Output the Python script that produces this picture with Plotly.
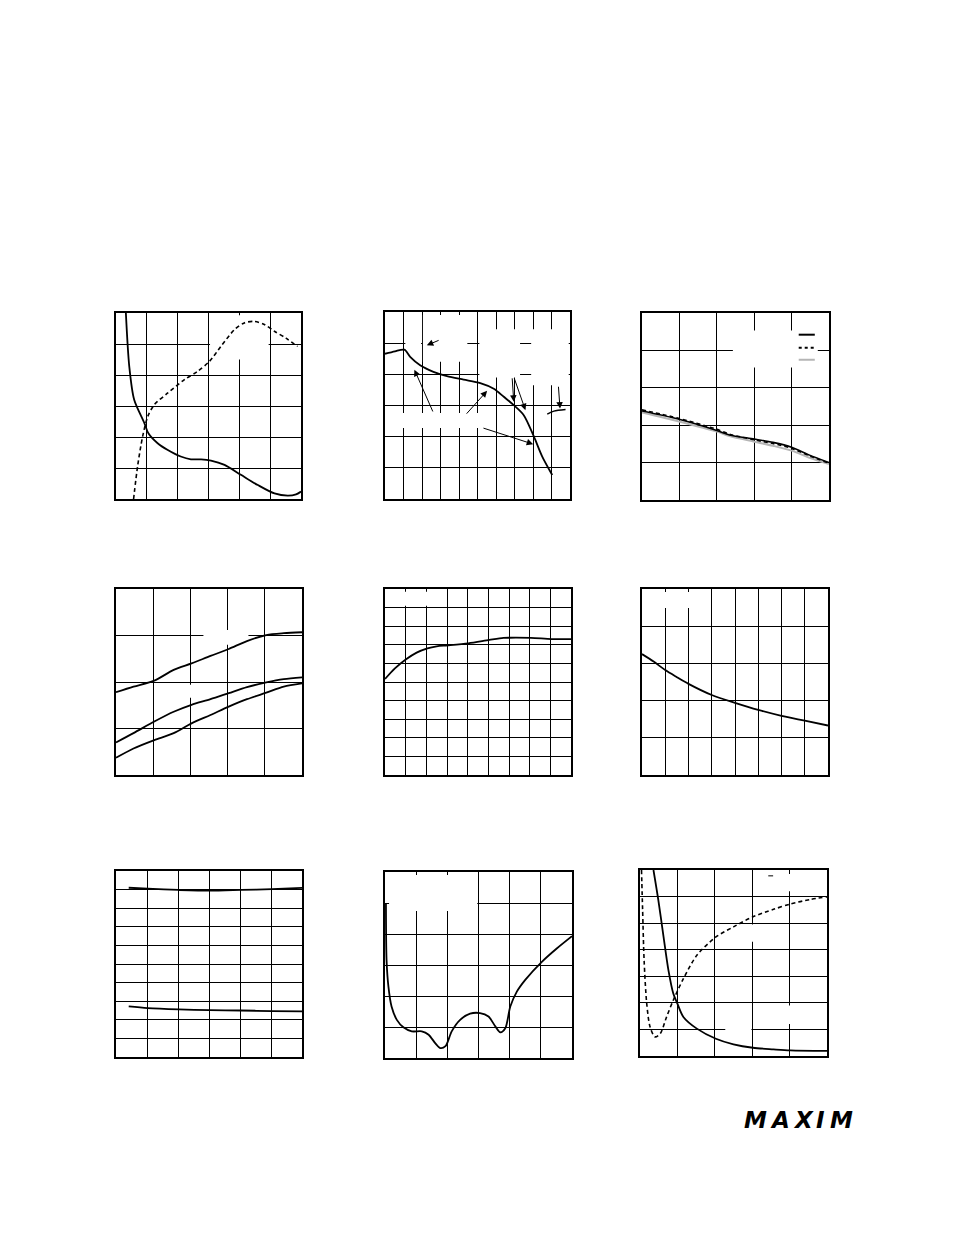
import plotly.graph_objects as go

W, H = 954, 1235

# ---------------- data (grid units; the reference has no readable labels) ----------------
# Chart 1
c1_solid_x = [0.32, 0.43, 0.59, 0.92, 1.05, 1.35, 1.68, 2.1, 2.43, 2.76, 3.08, 3.52, 4.05, 4.6, 5.14, 5.57, 5.84, 6.0]
c1_solid_y = [6.0, 4.28, 3.2, 2.45, 2.12, 1.8, 1.58, 1.37, 1.28, 1.28, 1.24, 1.1, 0.78, 0.45, 0.18, 0.11, 0.15, 0.24]
c1_dash_x = [0.57, 0.7, 0.86, 1.03, 1.24, 1.68, 2.22, 2.65, 3.03, 3.4, 3.84, 4.16, 4.49, 4.81, 5.14, 5.51, 5.89]
c1_dash_y = [0.0, 1.05, 2.0, 2.66, 3.04, 3.42, 3.85, 4.12, 4.44, 4.92, 5.46, 5.68, 5.73, 5.63, 5.41, 5.19, 4.92]

# Chart 2
c2_x = [0.0, 0.54, 1.05, 1.36, 1.9, 2.62, 3.35, 4.25, 5.15, 5.88, 6.42, 6.96, 7.5, 8.05, 8.5, 9.04]
c2_y = [4.66, 4.74, 4.79, 4.56, 4.29, 4.08, 3.94, 3.83, 3.72, 3.54, 3.28, 3.01, 2.69, 2.0, 1.36, 0.77]
c2_seg_x = [8.77, 9.13, 9.76]
c2_seg_y = [2.72, 2.82, 2.87]
c2_arrow_tail_x = [2.62, 4.34, 5.24, 6.87, 6.96, 9.37, 2.98]
c2_arrow_tail_y = [2.76, 2.69, 2.29, 3.92, 3.92, 3.65, 5.11]
c2_arrow_head_x = [1.59, 5.52, 8.01, 6.96, 7.59, 9.46, 2.26]
c2_arrow_head_y = [4.15, 3.47, 1.76, 3.12, 2.85, 2.9, 4.93]

# Chart 3
c3_x = [0.0, 0.99, 2.0, 2.34, 3.0, 3.5, 4.0, 4.48, 5.0]
c3_solid_y = [2.38, 2.16, 1.86, 1.74, 1.63, 1.54, 1.41, 1.2, 1.0]
c3_dash_y = [2.41, 2.18, 1.89, 1.76, 1.61, 1.51, 1.38, 1.18, 0.98]
c3_gray_y = [2.34, 2.1, 1.83, 1.71, 1.56, 1.45, 1.32, 1.13, 0.96]

# Chart 4
c4_x = [0.0, 0.47, 1.03, 1.55, 2.03, 2.54, 3.03, 3.52, 4.04, 4.51, 5.0]
c4_top_y = [1.78, 1.9, 2.03, 2.26, 2.4, 2.56, 2.71, 2.88, 3.01, 3.05, 3.07]
c4_mid_y = [0.7, 0.9, 1.15, 1.36, 1.51, 1.63, 1.76, 1.89, 1.99, 2.06, 2.1]
c4_bot_y = [0.37, 0.57, 0.75, 0.9, 1.11, 1.29, 1.47, 1.63, 1.77, 1.9, 1.97]

# Chart 5
c5_x = [0.0, 0.48, 1.02, 1.53, 2.05, 2.5, 3.03, 4.03, 5.05, 5.73, 6.05, 7.06, 8.06, 9.0]
c5_y = [5.16, 5.73, 6.22, 6.58, 6.81, 6.92, 6.97, 7.08, 7.26, 7.37, 7.38, 7.37, 7.31, 7.31]

# Chart 6
c6_x = [0.0, 0.5, 1.0, 1.5, 2.0, 3.0, 4.0, 5.0, 6.0, 7.0, 8.0]
c6_y = [3.25, 3.05, 2.82, 2.63, 2.45, 2.15, 1.94, 1.75, 1.59, 1.46, 1.33]

# Chart 7
c7_x = [0.41, 1.02, 2.02, 3.02, 4.03, 5.03, 6.0]
c7_top_y = [9.1, 9.05, 8.98, 8.94, 8.98, 9.03, 9.09]
c7_bot_y = [2.72, 2.63, 2.56, 2.52, 2.5, 2.47, 2.45]

# Chart 8
c8_x = [0.03, 0.05, 0.11, 0.21, 0.38, 0.59, 0.86, 1.18, 1.4, 1.61, 1.77, 1.94, 2.14, 2.41, 2.73, 3.05,
        3.32, 3.54, 3.7, 3.86, 4.02, 4.23, 4.5, 5.04, 5.52, 6.0]
c8_y = [5.0, 3.16, 2.3, 1.66, 1.23, 0.99, 0.86, 0.86, 0.75, 0.48, 0.32, 0.38, 0.86, 1.23, 1.43, 1.45,
        1.34, 1.02, 0.83, 0.96, 1.66, 2.14, 2.52, 3.11, 3.54, 3.93]

# Chart 9
c9_solid_x = [0.36, 0.49, 0.63, 0.76, 0.89, 1.0, 1.16, 1.52, 2.03, 2.5, 3.02, 3.57, 4.02, 5.0]
c9_solid_y = [7.0, 5.87, 4.48, 3.23, 2.35, 1.97, 1.47, 1.03, 0.65, 0.44, 0.31, 0.25, 0.21, 0.19]
c9_dash_x = [0.04, 0.07, 0.11, 0.18, 0.27, 0.4, 0.54, 0.71, 0.89, 1.16, 1.52, 2.03, 2.5, 3.02, 3.57, 4.02, 4.55, 5.0]
c9_dash_y = [7.0, 5.49, 3.6, 1.97, 1.09, 0.72, 0.84, 1.47, 2.1, 2.91, 3.79, 4.48, 4.86, 5.24, 5.52, 5.72, 5.89, 5.99]

logo_letters = ["M", "A", "X", "I", "M"]

# ---------------- layout ----------------
boxes = [  # left, right, top, bottom in page pixels
    (116, 301, 313, 499), (385, 570, 312, 499), (642, 829, 313, 500),
    (116, 302, 589, 775), (385, 571, 589, 775), (642, 828, 589, 775),
    (116, 302, 871, 1057), (385, 572, 872, 1058), (640, 827, 870, 1056),
]
grids = [(6, 6), (10, 6), (5, 5), (5, 4), (9, 10), (8, 5), (6, 10), (6, 6), (5, 7)]

# white areas where label text covered the grid in the reference (data units)
masks = {
    1: [(3.05, 4.95, 4.5, 5.93)],
    2: [(2.05, 4.45, 4.4, 5.9), (1.1, 1.95, 4.9, 5.1), (5.1, 7.3, 3.9, 5.45),
        (7.9, 9.93, 3.65, 5.45), (0.05, 5.1, 2.28, 2.76)],
    3: [(2.43, 4.7, 3.54, 4.53)],
    4: [(2.35, 3.56, 2.8, 3.12), (1.85, 2.95, 1.66, 1.94)],
    5: [(0.15, 2.95, 9.1, 9.85)],
    6: [(0.1, 2.85, 4.49, 4.92)],
    8: [(0.13, 2.96, 4.74, 5.9)],
    9: [(3.32, 4.97, 1.2, 1.9), (2.28, 2.98, 0.78, 1.16), (2.85, 3.3, 4.3, 4.95), (3.6, 4.6, 6.2, 6.85)],
}

fig = go.Figure()

lay = {}
for i, ((L, R, T, B), (nx, ny)) in enumerate(zip(boxes, grids), start=1):
    common = dict(showgrid=True, gridcolor="black", gridwidth=1, dtick=1, tick0=0,
                  showline=True, linecolor="black", linewidth=2, mirror=True,
                  showticklabels=False, ticks="", zeroline=False, fixedrange=True)
    lay[f"xaxis{i}"] = dict(domain=[L / W, R / W], anchor=f"y{i}", range=[0, nx], **common)
    lay[f"yaxis{i}"] = dict(domain=[1 - B / H, 1 - T / H], anchor=f"x{i}", range=[0, ny], **common)
fig.update_layout(**lay)


def add(i, x, y, color="black", width=1.8, dash="solid"):
    fig.add_trace(go.Scatter(x=x, y=y, mode="lines", xaxis=f"x{i}", yaxis=f"y{i}",
                             line=dict(color=color, width=width, dash=dash, shape="spline", smoothing=0.8),
                             hoverinfo="skip", showlegend=False, cliponaxis=True))


add(1, c1_solid_x, c1_solid_y)
add(1, c1_dash_x, c1_dash_y, width=1.6, dash="4px,3px")
add(2, c2_x, c2_y)
add(2, c2_seg_x, c2_seg_y, width=1.4)
add(3, c3_x, c3_gray_y, color="#b5b5b5", width=2)
add(3, c3_x, c3_solid_y, width=1.6)
add(3, c3_x, c3_dash_y, width=1.6, dash="4px,3px")
add(4, c4_x, c4_top_y)
add(4, c4_x, c4_mid_y)
add(4, c4_x, c4_bot_y)
add(5, c5_x, c5_y)
add(6, c6_x, c6_y)
add(7, c7_x, c7_top_y)
add(7, c7_x, c7_bot_y)
add(8, c8_x, c8_y)
add(9, c9_solid_x, c9_solid_y)
add(9, c9_dash_x, c9_dash_y, width=1.6, dash="4px,3px")

shapes = []
for i, rects in masks.items():
    for (x0, x1, y0, y1) in rects:
        shapes.append(dict(type="rect", xref=f"x{i}", yref=f"y{i}", x0=x0, x1=x1, y0=y0, y1=y1,
                           fillcolor="white", line=dict(width=0), layer="between"))
# legend samples in chart 3
for yy, col, dsh in [(4.42, "black", "solid"), (4.07, "black", "dot"), (3.75, "#b5b5b5", "solid")]:
    shapes.append(dict(type="line", xref="x3", yref="y3", x0=4.19, x1=4.62, y0=yy, y1=yy,
                       line=dict(color=col, width=2, dash=dsh), layer="above"))
# small minus-sign remnant in chart 9
shapes.append(dict(type="line", xref="x9", yref="y9", x0=3.43, x1=3.56, y0=6.78, y1=6.78,
                   line=dict(color="black", width=1), layer="above"))

annotations = []
for tx, ty, hx, hy in zip(c2_arrow_tail_x, c2_arrow_tail_y, c2_arrow_head_x, c2_arrow_head_y):
    annotations.append(dict(xref="x2", yref="y2", axref="x2", ayref="y2", x=hx, y=hy, ax=tx, ay=ty,
                            text="", showarrow=True, arrowhead=2, arrowsize=1.3, arrowwidth=1,
                            arrowcolor="black"))

# MAXIM logo
for ch, cx in zip(logo_letters, [755, 780, 803, 820, 841]):
    annotations.append(dict(xref="paper", yref="paper", x=cx / W, y=1 - 1120 / H, text=ch,
                            showarrow=False, xanchor="center", yanchor="middle",
                            font=dict(family="DejaVu Sans", size=23, color="black",
                                      weight=900, style="italic")))

fig.update_layout(width=W, height=H, margin=dict(l=0, r=0, t=0, b=0),
                  paper_bgcolor="white", plot_bgcolor="white",
                  shapes=shapes, annotations=annotations, showlegend=False)

fig.write_html("out.html", post_script="document.body.style.margin='0';",
               config={"displayModeBar": False})
